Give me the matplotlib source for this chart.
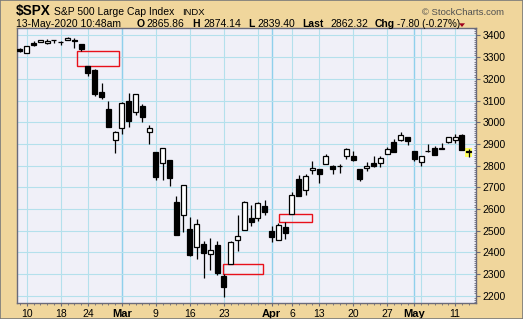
import matplotlib
matplotlib.use("Agg")
import matplotlib.pyplot as plt
from matplotlib.patches import Rectangle, Polygon
import numpy as np

# ---------------- data ----------------
dates = ["2020-02-07", "2020-02-10", "2020-02-11", "2020-02-12", "2020-02-13", "2020-02-14",
         "2020-02-18", "2020-02-19", "2020-02-20", "2020-02-21", "2020-02-24", "2020-02-25",
         "2020-02-26", "2020-02-27", "2020-02-28", "2020-03-02", "2020-03-03", "2020-03-04",
         "2020-03-05", "2020-03-06", "2020-03-09", "2020-03-10", "2020-03-11", "2020-03-12",
         "2020-03-13", "2020-03-16", "2020-03-17", "2020-03-18", "2020-03-19", "2020-03-20",
         "2020-03-23", "2020-03-24", "2020-03-25", "2020-03-26", "2020-03-27", "2020-03-30",
         "2020-03-31", "2020-04-01", "2020-04-02", "2020-04-03", "2020-04-06", "2020-04-07",
         "2020-04-08", "2020-04-09", "2020-04-13", "2020-04-14", "2020-04-15", "2020-04-16",
         "2020-04-17", "2020-04-20", "2020-04-21", "2020-04-22", "2020-04-23", "2020-04-24",
         "2020-04-27", "2020-04-28", "2020-04-29", "2020-04-30", "2020-05-01", "2020-05-04",
         "2020-05-05", "2020-05-06", "2020-05-07", "2020-05-08", "2020-05-11", "2020-05-12",
         "2020-05-13"]
opens = [3335.5, 3318.3, 3365.9, 3370.5, 3365.9, 3378.1, 3369.0, 3380.4, 3380.5, 3360.5,
         3257.6, 3238.9, 3139.9, 3062.5, 2916.9, 2974.3, 3096.5, 3045.8, 3075.7, 2954.2,
         2863.9, 2813.5, 2825.6, 2630.9, 2570.0, 2508.6, 2425.7, 2436.5, 2393.5, 2431.9,
         2290.7, 2344.4, 2457.8, 2501.3, 2555.9, 2559.0, 2614.7, 2498.1, 2458.5, 2514.9,
         2578.3, 2738.7, 2685.0, 2777.0, 2782.5, 2805.1, 2795.6, 2799.3, 2842.4, 2845.6,
         2784.8, 2787.9, 2810.4, 2812.6, 2854.7, 2910.0, 2918.5, 2930.9, 2869.1, 2815.0,
         2868.9, 2883.1, 2878.3, 2908.8, 2915.5, 2939.5, 2865.86]
highs = [3341.4, 3352.3, 3375.6, 3381.5, 3385.1, 3380.7, 3375.0, 3393.5, 3389.2, 3360.8,
         3259.8, 3247.0, 3182.5, 3097.1, 2959.7, 3091.0, 3136.7, 3131.0, 3083.0, 2985.9,
         2863.9, 2882.6, 2825.6, 2661.0, 2711.3, 2563.0, 2553.9, 2453.6, 2467.0, 2453.0,
         2300.7, 2449.7, 2571.4, 2637.0, 2615.9, 2631.8, 2641.4, 2522.8, 2533.2, 2538.2,
         2676.9, 2756.9, 2760.8, 2818.6, 2782.5, 2851.9, 2801.9, 2806.5, 2879.2, 2869.0,
         2785.5, 2815.1, 2844.9, 2842.7, 2887.7, 2921.2, 2954.9, 2930.9, 2869.1, 2844.2,
         2898.2, 2891.1, 2901.9, 2932.2, 2944.3, 2945.8, 2874.14]
lows = [3322.1, 3317.8, 3352.7, 3369.7, 3360.5, 3366.2, 3355.6, 3378.8, 3341.0, 3328.5,
        3214.7, 3118.8, 3109.0, 2977.4, 2855.8, 2945.2, 2976.6, 3034.4, 2999.8, 2901.5,
        2734.4, 2734.0, 2707.2, 2478.9, 2492.4, 2380.9, 2367.0, 2280.5, 2319.8, 2295.6,
        2191.9, 2344.4, 2407.5, 2500.7, 2520.0, 2545.3, 2571.2, 2447.5, 2455.8, 2460.0,
        2574.6, 2657.7, 2663.3, 2762.4, 2721.2, 2805.1, 2761.5, 2764.3, 2830.9, 2820.4,
        2727.1, 2776.0, 2794.3, 2791.8, 2852.9, 2860.7, 2912.2, 2892.5, 2821.6, 2797.9,
        2863.6, 2847.7, 2876.5, 2902.9, 2903.4, 2869.6, 2839.40]
closes = [3327.7, 3352.1, 3357.8, 3379.5, 3373.9, 3380.2, 3370.3, 3386.2, 3373.2, 3337.8,
          3225.9, 3128.2, 3116.4, 2978.8, 2954.2, 3090.2, 3003.4, 3130.1, 3023.9, 2972.4,
          2746.6, 2882.2, 2741.4, 2480.6, 2711.0, 2386.1, 2529.2, 2398.1, 2409.4, 2304.9,
          2237.4, 2447.3, 2475.6, 2630.1, 2541.5, 2626.7, 2584.6, 2470.5, 2526.9, 2488.7,
          2663.7, 2659.4, 2750.0, 2789.8, 2761.6, 2846.1, 2783.4, 2799.6, 2874.6, 2823.2,
          2736.6, 2799.3, 2797.8, 2836.7, 2878.5, 2863.4, 2939.5, 2912.4, 2830.7, 2842.7,
          2868.4, 2848.4, 2881.2, 2929.8, 2930.3, 2870.12, 2862.32]

tick_dates = ["2020-02-10", "2020-02-18", "2020-02-24", "2020-03-02", "2020-03-09", "2020-03-16",
              "2020-03-23", "2020-04-01", "2020-04-06", "2020-04-13", "2020-04-20", "2020-04-27",
              "2020-05-01", "2020-05-11"]
tick_labels = ["10", "18", "24", "Mar", "9", "16", "23", "Apr", "6", "13", "20", "27", "May", "11"]
month_labels = ["Mar", "Apr", "May"]
week_grid_dates = ["2020-02-10", "2020-02-18", "2020-02-24", "2020-03-02", "2020-03-09",
                   "2020-03-16", "2020-03-23", "2020-03-30", "2020-04-06", "2020-04-13",
                   "2020-04-20", "2020-04-27", "2020-05-04", "2020-05-11"]
month_grid_dates = ["2020-03-02", "2020-04-01", "2020-05-01"]
y_ticks = [2200, 2300, 2400, 2500, 2600, 2700, 2800, 2900, 3000, 3100, 3200, 3300, 3400]

# unfilled price gaps (the day the gap opened)
gap_dates = ["2020-02-24", "2020-03-24", "2020-04-06"]
# box start offset before the gap day and box length, in trading days
gap_box_extent = [(1.56, 6.16), (1.1, 5.9), (1.85, 4.75)]

# ---------------- style ----------------
TAN = "#F0D69C"
PLOT_BG = "#F0F0F8"
GRID = "#B4E0EC"
MONTH_GRID = "#8FD0EC"
FRAME = "#6A6A7A"
FONT = "Liberation Sans"
W, H = 523, 319

plt.rcParams["font.family"] = [FONT, "DejaVu Sans"]

fig = plt.figure(figsize=(W / 100, H / 100), dpi=100, facecolor=TAN)
L, R, T, B = 17, 476, 28, 303
ax = fig.add_axes([L / W, 1 - B / H, (R - L) / W, (B - T) / H])
ax.set_facecolor(PLOT_BG)

d_index = {d: i for i, d in enumerate(dates)}
pos = np.arange(len(dates))
o = np.array(opens); h = np.array(highs); lo = np.array(lows); c = np.array(closes)

# grid
for d in week_grid_dates:
    ax.axvline(d_index[d], color=GRID, lw=0.8, zorder=0)
for d in month_grid_dates:
    ax.axvline(d_index[d], color=MONTH_GRID, lw=1.0, zorder=0)
for yv in y_ticks:
    ax.axhline(yv, color=GRID, lw=0.8, zorder=0)

# unfilled gap boxes
for d, (back, length) in zip(gap_dates, gap_box_extent):
    i = d_index[d]
    if lo[i - 1] > h[i]:
        bot, top = h[i], lo[i - 1]
    else:
        bot, top = h[i - 1], lo[i]
    ax.add_patch(Rectangle((i - back, bot), length, top - bot, fill=False,
                           edgecolor="#E8101A", lw=1.0, zorder=2))

# highlight last bar
last = len(pos) - 1
ax.add_patch(Rectangle((pos[last] - 0.55, lo[last] - 2), 1.1, h[last] - lo[last] + 10,
                       facecolor="#FFFF60", edgecolor="none", zorder=2))

# candles
bw = 0.74
for i in pos:
    ax.plot([i, i], [lo[i], h[i]], color="black", lw=0.9, zorder=3, solid_capstyle="butt")
    bottom = min(o[i], c[i])
    height = abs(c[i] - o[i])
    face = "white" if c[i] >= o[i] else "black"
    ax.add_patch(Rectangle((i - bw / 2, bottom), bw, height, facecolor=face,
                           edgecolor="black", lw=0.9, zorder=4))

ax.set_xlim(-0.43, 67.07)
ax.set_ylim(2165.5, 3434.6)

# axes styling
for s in ax.spines.values():
    s.set_color(FRAME)
    s.set_linewidth(1.0)

ax.yaxis.tick_right()
ax.set_yticks(y_ticks)
ax.set_yticklabels([str(v) for v in y_ticks])
ax.set_yticks(np.arange(2170, 3435, 10), minor=True)
ax.tick_params(axis="y", which="major", length=3, width=0.8, color=FRAME, pad=1.5,
               labelsize=7.5, labelcolor="black")
ax.tick_params(axis="y", which="minor", length=1.5, width=0.6, color=FRAME, direction="in")

ax.set_xticks([d_index[d] for d in tick_dates])
ax.set_xticklabels(tick_labels)
ax.set_xticks(pos, minor=True)
ax.tick_params(axis="x", which="major", length=2.5, width=0.8, color=FRAME, pad=2,
               labelsize=7.5, labelcolor="black")
ax.tick_params(axis="x", which="minor", length=1.5, width=0.6, color=FRAME)
for lab in ax.get_xticklabels():
    if lab.get_text() in month_labels:
        lab.set_fontweight("bold")
        lab.set_fontsize(8)


# ---------------- header ----------------
def ft(x, y, s, **kw):
    fig.text(x / W, 1 - y / H, s, va="baseline", ha=kw.pop("ha", "left"), **kw)


ft(16, 15, "$SPX", fontsize=9.8, fontweight="bold")
ft(54, 15, "S&P 500 Large Cap Index", fontsize=7.5)
ft(182, 15, "INDX", fontsize=6.8)
ft(504, 15, "\u00a9 StockCharts.com", fontsize=6.8, color="#505050", ha="right")

ft(16, 27, "13-May-2020 10:48am", fontsize=7.5)
ft(137, 27, "O", fontsize=7.5, fontweight="bold")
ft(146, 27, f"{opens[-1]:.2f}", fontsize=7.5)
ft(192, 27, "H", fontsize=7.5, fontweight="bold")
ft(203, 27, f"{highs[-1]:.2f}", fontsize=7.5)
ft(248, 27, "L", fontsize=7.5, fontweight="bold")
ft(257, 27, f"{lows[-1]:.2f}", fontsize=7.5)
ft(302, 27, "Last", fontsize=7.5, fontweight="bold")
ft(330, 27, f"{closes[-1]:.2f}", fontsize=7.5)
ft(375, 27, "Chg", fontsize=7.5, fontweight="bold")
chg = closes[-1] - closes[-2]
ft(397, 27, f"{chg:.2f} ({chg / closes[-2] * 100:.2f}%)", fontsize=7.1)
fig.patches.append(Polygon([[459 / W, 1 - 23.3 / H], [465 / W, 1 - 23.3 / H], [462 / W, 1 - 27 / H]],
                           closed=True, transform=fig.transFigure, facecolor="#A0001E",
                           edgecolor="none"))

# outer border
fig.patches.append(Rectangle((0, 0), 1, 1, transform=fig.transFigure, fill=False,
                             edgecolor="#7A7A7A", lw=1.2))

fig.savefig("out.png", dpi=100, facecolor=TAN)
